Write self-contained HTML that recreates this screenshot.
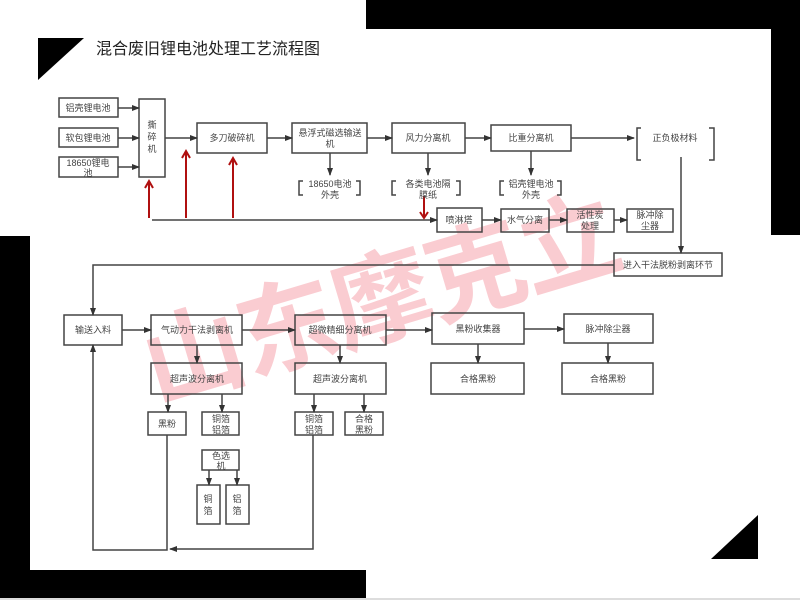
<!DOCTYPE html>
<html><head><meta charset="utf-8"><style>
html,body{margin:0;padding:0;background:#fff;}
svg{display:block;font-family:"Liberation Sans","Noto Sans CJK SC",sans-serif;}
</style></head><body>
<svg width="800" height="600" viewBox="0 0 800 600" xmlns="http://www.w3.org/2000/svg">
<defs>
<marker id="a" markerWidth="8" markerHeight="8" refX="7" refY="4" orient="auto" markerUnits="userSpaceOnUse"><path d="M0,1 L8,4 L0,7 z" fill="#333"/></marker>
</defs>
<rect width="800" height="600" fill="#fff"/>
<rect x="366" y="0" width="434" height="29" fill="#000"/>
<rect x="771" y="29" width="29" height="206" fill="#000"/>
<rect x="0" y="236" width="30" height="335" fill="#000"/>
<rect x="0" y="570" width="366" height="28" fill="#000"/>
<rect x="0" y="598" width="800" height="2" fill="#ddd"/>
<path d="M38,38 L84,38 L38,80 z" fill="#000"/>
<path d="M758,515 L758,559 L711,559 z" fill="#000"/>
<text x="96" y="54" font-size="16" fill="#222">混合废旧锂电池处理工艺流程图</text>

<text x="381" y="335" font-size="100" font-weight="bold" fill="rgba(240,100,115,0.33)" text-anchor="middle" letter-spacing="-2" transform="rotate(-16.6 381 301)">山东摩克立</text>

<g stroke="#444" stroke-width="1.5" fill="none">
<rect x="59" y="98" width="59" height="19"/>
<rect x="59" y="128" width="59" height="19"/>
<rect x="59" y="157" width="59" height="20"/>
<rect x="139" y="99" width="26" height="78"/>
<rect x="197" y="123" width="70" height="30"/>
<rect x="292" y="123" width="75" height="30"/>
<rect x="392" y="123" width="73" height="30"/>
<rect x="491" y="125" width="80" height="26"/>
<rect x="437" y="208" width="45" height="24"/>
<rect x="501" y="209" width="48" height="23"/>
<rect x="567" y="209" width="47" height="23"/>
<rect x="627" y="209" width="46" height="23"/>
<rect x="614" y="253" width="108" height="23"/>
<rect x="64" y="315" width="58" height="30"/>
<rect x="151" y="315" width="91" height="30"/>
<rect x="295" y="315" width="91" height="30"/>
<rect x="432" y="313" width="92" height="31"/>
<rect x="564" y="314" width="89" height="29"/>
<rect x="431" y="363" width="93" height="31"/>
<rect x="562" y="363" width="91" height="31"/>
<rect x="151" y="363" width="91" height="31"/>
<rect x="295" y="363" width="91" height="31"/>
<rect x="148" y="412" width="38" height="23"/>
<rect x="202" y="412" width="37" height="23"/>
<rect x="295" y="412" width="38" height="23"/>
<rect x="345" y="412" width="38" height="23"/>
<rect x="202" y="450" width="37" height="20"/>
<rect x="197" y="485" width="23" height="39"/>
<rect x="226" y="485" width="23" height="39"/>
<path d="M303,181 h-4 v14 h4 M356,181 h4 v14 h-4"/>
<path d="M396,181 h-4 v14 h4 M456,181 h4 v14 h-4"/>
<path d="M504,181 h-4 v14 h4 M557,181 h4 v14 h-4"/>
<path d="M641,128 h-4 v32 h4 M709,128 h5 v32 h-5"/>
</g>

<g stroke="#444" stroke-width="1.5" fill="none" marker-end="url(#a)">
<line x1="118" y1="108" x2="139" y2="108"/>
<line x1="118" y1="138" x2="139" y2="138"/>
<line x1="118" y1="167" x2="139" y2="167"/>
<line x1="165" y1="138" x2="197" y2="138"/>
<line x1="267" y1="138" x2="292" y2="138"/>
<line x1="367" y1="138" x2="392" y2="138"/>
<line x1="465" y1="138" x2="491" y2="138"/>
<line x1="571" y1="138" x2="634" y2="138"/>
<line x1="330" y1="153" x2="330" y2="175"/>
<line x1="428" y1="153" x2="428" y2="175"/>
<line x1="531" y1="151" x2="531" y2="175"/>
<line x1="152" y1="220" x2="437" y2="220"/>
<line x1="482" y1="220" x2="501" y2="220"/>
<line x1="549" y1="220" x2="567" y2="220"/>
<line x1="614" y1="220" x2="627" y2="220"/>
<line x1="681" y1="157" x2="681" y2="253"/>
<polyline points="614,265 93,265 93,315"/>
<line x1="122" y1="330" x2="151" y2="330"/>
<line x1="242" y1="330" x2="295" y2="330"/>
<line x1="386" y1="330" x2="432" y2="330"/>
<line x1="524" y1="329" x2="564" y2="329"/>
<line x1="478" y1="344" x2="478" y2="363"/>
<line x1="608" y1="343" x2="608" y2="363"/>
<line x1="197" y1="345" x2="197" y2="363"/>
<line x1="340" y1="345" x2="340" y2="363"/>
<line x1="168" y1="394" x2="168" y2="412"/>
<line x1="222" y1="394" x2="222" y2="412"/>
<line x1="314" y1="394" x2="314" y2="412"/>
<line x1="364" y1="394" x2="364" y2="412"/>
<line x1="209" y1="470" x2="209" y2="485"/>
<line x1="237" y1="470" x2="237" y2="485"/>
<polyline points="313,435 313,549 170,549"/>
<polyline points="167,435 167,550 93,550 93,345"/>
</g>
<g stroke="#b01010" stroke-width="2" fill="none">
<line x1="149" y1="218" x2="149" y2="182"/>
<path d="M145,188 L149,181 L153,188"/>
<line x1="186" y1="218" x2="186" y2="152"/>
<path d="M182,158 L186,151 L190,158"/>
<line x1="233" y1="218" x2="233" y2="159"/>
<path d="M229,165 L233,158 L237,165"/>
<line x1="424" y1="196" x2="424" y2="218"/>
<path d="M420,212 L424,218 L428,212"/>
</g>

<g font-size="9" fill="#444" text-anchor="middle">
<text x="88" y="111">铝壳锂电池</text>
<text x="88" y="141">软包锂电池</text>
<text x="88" y="166">18650锂电</text>
<text x="88" y="176">池</text>
<text x="152" y="128">撕</text>
<text x="152" y="140">碎</text>
<text x="152" y="152">机</text>
<text x="232" y="141">多刀破碎机</text>
<text x="330" y="136">悬浮式磁选输送</text>
<text x="330" y="147">机</text>
<text x="428" y="141">风力分离机</text>
<text x="531" y="141">比重分离机</text>
<text x="675" y="141">正负极材料</text>
<text x="330" y="187">18650电池</text>
<text x="330" y="198">外壳</text>
<text x="428" y="187">各类电池隔</text>
<text x="428" y="198">膜纸</text>
<text x="531" y="187">铝壳锂电池</text>
<text x="531" y="198">外壳</text>
<text x="459" y="223">喷淋塔</text>
<text x="525" y="223">水气分离</text>
<text x="590" y="218">活性炭</text>
<text x="590" y="229">处理</text>
<text x="650" y="218">脉冲除</text>
<text x="650" y="229">尘器</text>
<text x="668" y="268">进入干法脱粉剥离环节</text>
<text x="93" y="333">输送入料</text>
<text x="197" y="333">气动力干法剥离机</text>
<text x="340" y="333">超微精细分离机</text>
<text x="478" y="332">黑粉收集器</text>
<text x="608" y="332">脉冲除尘器</text>
<text x="478" y="382">合格黑粉</text>
<text x="608" y="382">合格黑粉</text>
<text x="197" y="382">超声波分离机</text>
<text x="340" y="382">超声波分离机</text>
<text x="167" y="427">黑粉</text>
<text x="221" y="422">铜箔</text>
<text x="221" y="433">铝箔</text>
<text x="314" y="422">铜箔</text>
<text x="314" y="433">铝箔</text>
<text x="364" y="422">合格</text>
<text x="364" y="433">黑粉</text>
<text x="221" y="459">色选</text>
<text x="221" y="469">机</text>
<text x="208" y="502">铜</text>
<text x="208" y="514">箔</text>
<text x="237" y="502">铝</text>
<text x="237" y="514">箔</text>
</g>
</svg>
</body></html>
